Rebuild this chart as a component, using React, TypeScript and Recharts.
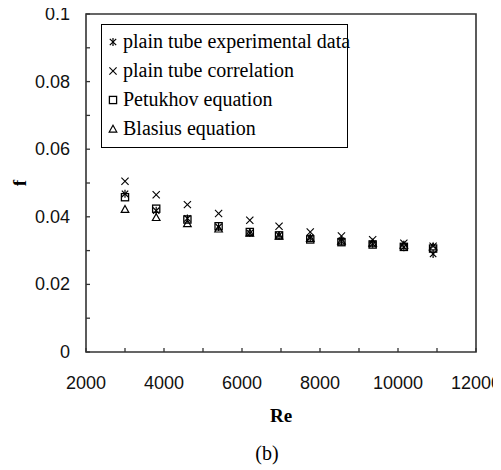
import React from 'react';
import { ScatterChart, Scatter, XAxis, YAxis, ReferenceArea, Legend } from 'recharts';

// ---- data ----
const reynolds = [3000, 3800, 4600, 5400, 6200, 6950, 7750, 8550, 9350, 10150, 10900];
const experimentalF = [0.0468, 0.0418, 0.0395, 0.037, 0.0352, 0.0345, 0.0338, 0.0328, 0.032, 0.031, 0.029];
const correlationF = [0.0505, 0.0465, 0.0436, 0.041, 0.039, 0.0372, 0.0355, 0.0343, 0.0332, 0.0322, 0.0313];
const petukhovF = [0.0458, 0.0424, 0.0392, 0.0372, 0.0355, 0.0345, 0.0333, 0.0325, 0.0318, 0.0311, 0.0306];
const blasiusF = [0.0422, 0.0398, 0.038, 0.0364, 0.0352, 0.0343, 0.0336, 0.0328, 0.0322, 0.0316, 0.0311];

const seriesNames = [
  'plain tube experimental data',
  'plain tube correlation',
  'Petukhov equation',
  'Blasius equation',
];
const xTicks = [2000, 3000, 4000, 5000, 6000, 7000, 8000, 9000, 10000, 11000, 12000];
const xLabelTicks = [2000, 4000, 6000, 8000, 10000, 12000];
const yTicks = [0, 0.01, 0.02, 0.03, 0.04, 0.05, 0.06, 0.07, 0.08, 0.09, 0.1];
const yLabelTicks = [0, 0.02, 0.04, 0.06, 0.08, 0.1];

const toPoints = (ys: number[]) => reynolds.map((re, i) => ({ re, f: ys[i] }));

const INK = '#000';
const AXIS = '#333';
const TICK_FONT = '"Liberation Sans", Arial, sans-serif';
const SERIF = '"Liberation Serif", "Times New Roman", serif';

// ---- marker shapes ----
const Asterisk = ({ cx, cy }: any) => {
  const r = 3.2;
  return (
    <g stroke={INK} strokeWidth={1.2}>
      <line x1={cx - r} y1={cy - r} x2={cx + r} y2={cy + r} />
      <line x1={cx - r} y1={cy + r} x2={cx + r} y2={cy - r} />
      <line x1={cx} y1={cy - r - 0.8} x2={cx} y2={cy + r + 0.8} />
    </g>
  );
};
const Cross = ({ cx, cy }: any) => {
  const r = 3.6;
  return (
    <g stroke={INK} strokeWidth={1.1}>
      <line x1={cx - r} y1={cy - r} x2={cx + r} y2={cy + r} />
      <line x1={cx - r} y1={cy + r} x2={cx + r} y2={cy - r} />
    </g>
  );
};
const Square = ({ cx, cy }: any) => {
  const r = 3.6;
  return <rect x={cx - r} y={cy - r} width={2 * r} height={2 * r} fill="none" stroke={INK} strokeWidth={1.3} />;
};
const Triangle = ({ cx, cy }: any) => {
  const r = 3.8;
  return (
    <polygon
      points={`${cx},${cy - r} ${cx + r},${cy + r * 0.8} ${cx - r},${cy + r * 0.8}`}
      fill="none"
      stroke={INK}
      strokeWidth={1.2}
    />
  );
};
const markers = [Asterisk, Cross, Square, Triangle];

// ---- axis ticks (drawn inward, like the reference) ----
const XTick = (props: any) => {
  const { x, y, payload } = props;
  const v = payload.value;
  const labelled = xLabelTicks.includes(v);
  return (
    <g>
      <line x1={x} x2={x} y1={y} y2={y - 4} stroke={AXIS} strokeWidth={1.3} />
      {labelled && (
        <text x={x} y={y + 31} textAnchor="middle" dominantBaseline="central" fontFamily={TICK_FONT} fontSize={18} fill="#111">
          {v}
        </text>
      )}
    </g>
  );
};
const YTick = (props: any) => {
  const { x, y, payload, index } = props;
  const v = payload.value;
  const labelled = index % 2 === 0;
  const label = yLabelTicks[index / 2];
  return (
    <g>
      <line x1={x} x2={x + 4} y1={y} y2={y} stroke={AXIS} strokeWidth={1.3} />
      {labelled && (
        <text x={x - 16} y={y} textAnchor="end" dominantBaseline="central" fontFamily={TICK_FONT} fontSize={18} fill="#111">
          {String(label !== undefined ? label : v)}
        </text>
      )}
    </g>
  );
};

const LegendBox = () => (
  <div
    style={{
      border: '1.3px solid #000',
      background: '#fff',
      boxSizing: 'border-box',
      width: 247,
      padding: '2px 0 4px 4px',
      fontFamily: SERIF,
      fontSize: 20,
      color: '#000',
      whiteSpace: 'nowrap',
    }}
  >
    {seriesNames.map((name, i) => {
      const M = markers[i];
      return (
        <div key={name} style={{ display: 'flex', alignItems: 'center', height: 29 }}>
          <svg width={14} height={14} style={{ flex: 'none' }}>
            <M cx={7} cy={7} />
          </svg>
          <span style={{ marginLeft: 3 }}>{name}</span>
        </div>
      );
    })}
  </div>
);

const XLabel = (props: any) => {
  const vb = props.viewBox || { x: 86, y: 352, width: 390, height: 118 };
  const cx = vb.x + vb.width / 2;
  return (
    <g>
      <text x={cx} y={vb.y + 63} textAnchor="middle" dominantBaseline="central" fontFamily={SERIF} fontWeight="bold" fontSize={19} fill="#000">
        Re
      </text>
      <text x={cx - 14} y={vb.y + 101} textAnchor="middle" dominantBaseline="central" fontFamily={SERIF} fontSize={20} fill="#000">
        (b)
      </text>
    </g>
  );
};
const YLabel = (props: any) => {
  const vb = props.viewBox || { x: 0, y: 14, width: 86, height: 338 };
  const x = vb.x + 19;
  const y = vb.y + vb.height / 2;
  return (
    <text x={x} y={y} transform={`rotate(-90 ${x} ${y})`} textAnchor="middle" dominantBaseline="central" fontFamily={SERIF} fontWeight="bold" fontSize={19} fill="#000">
      f
    </text>
  );
};

export default function App() {
  return (
    <div style={{ width: 501, height: 470, margin: '-8px 0 0 -8px' }}>
      <ScatterChart width={501} height={470} margin={{ top: 14, right: 25, bottom: 0, left: 0 }}>
        <XAxis
          type="number"
          dataKey="re"
          domain={[2000, 12000]}
          ticks={xTicks}
          interval={0}
          tickSize={0}
          tickMargin={0}
          tickLine={false}
          axisLine={false}
          tick={<XTick />}
          height={118}
          label={<XLabel />}
        />
        <YAxis
          type="number"
          dataKey="f"
          domain={[0, 0.1]}
          ticks={yTicks}
          interval={0}
          tickSize={0}
          tickMargin={0}
          tickLine={false}
          axisLine={false}
          tick={<YTick />}
          width={86}
          label={<YLabel />}
        />
        <ReferenceArea x1={2000} x2={12000} y1={0} y2={0.1} fill="none" stroke={AXIS} strokeWidth={1.6} />
        <Legend
          layout="vertical"
          align="center"
          verticalAlign="middle"
          wrapperStyle={{ left: 101, top: 24, width: 247 }}
          content={<LegendBox />}
        />
        <Scatter name={seriesNames[0]} data={toPoints(experimentalF)} shape={Asterisk} isAnimationActive={false} />
        <Scatter name={seriesNames[1]} data={toPoints(correlationF)} shape={Cross} isAnimationActive={false} />
        <Scatter name={seriesNames[2]} data={toPoints(petukhovF)} shape={Square} isAnimationActive={false} />
        <Scatter name={seriesNames[3]} data={toPoints(blasiusF)} shape={Triangle} isAnimationActive={false} />
      </ScatterChart>
    </div>
  );
}
